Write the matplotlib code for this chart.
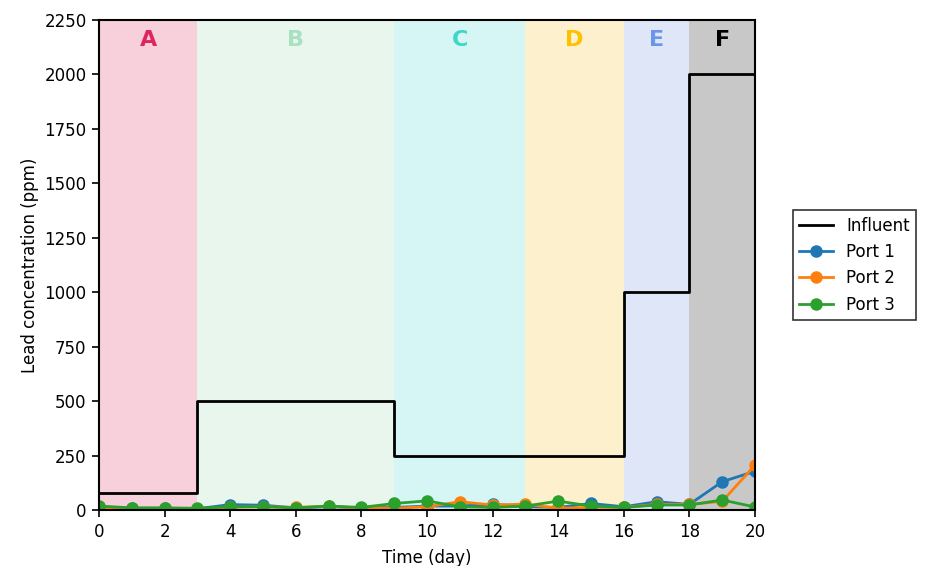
import matplotlib.pyplot as plt
import numpy as np

# influent step profile (ppm), step starts at each day
influent_days = [0, 3, 9, 16, 18, 20]
influent_ppm = [80, 500, 250, 1000, 2000, 2000]

days = list(range(21))
port1 = [15, 8, 8, 6, 25, 22, 10, 15, 10, 12, 18, 18, 27, 15, 12, 30, 15, 38, 26, 130, 178]
port2 = [10, 6, 6, 5, 12, 15, 12, 18, 8, 8, 15, 38, 23, 27, 8, 12, 12, 26, 26, 40, 206]
port3 = [18, 10, 10, 8, 15, 15, 10, 18, 12, 30, 42, 15, 12, 18, 41, 18, 12, 23, 23, 46, 14]

# phase bands
phase_labels = ['A', 'B', 'C', 'D', 'E', 'F']
phase_edges = [0, 3, 9, 13, 16, 18, 20]
phase_fill = ['#f7d0dc', '#e8f6ee', '#d5f6f4', '#fdf0cc', '#dfe6f7', '#c8c8c8']
phase_text = ['#e0245e', '#a8e0c0', '#3dd6c8', '#ffc000', '#6b95e8', '#000000']

plt.rcParams['font.family'] = 'DejaVu Sans'
plt.rcParams['font.size'] = 12

fig = plt.figure(figsize=(9.29, 5.66), dpi=100)
ax = fig.add_subplot(111)
fig.subplots_adjust(left=0.1066, right=0.8127, top=0.9647, bottom=0.0989)

for i, lab in enumerate(phase_labels):
    x0, x1 = phase_edges[i], phase_edges[i + 1]
    ax.axvspan(x0, x1, color=phase_fill[i], zorder=0, lw=0)
    ax.text((x0 + x1) / 2, 2160, lab, color=phase_text[i], fontsize=16,
            fontweight='bold', ha='center', va='center')

ax.step(influent_days, influent_ppm, where='post', color='black', lw=2, label='Influent')
ax.plot(days, port1, '-o', color='#1f77b4', lw=2, ms=8, label='Port 1')
ax.plot(days, port2, '-o', color='#ff7f0e', lw=2, ms=8, label='Port 2')
ax.plot(days, port3, '-o', color='#2ca02c', lw=2, ms=8, label='Port 3')

ax.set_xlim(0, 20)
ax.set_ylim(0, 2250)
ax.set_xticks(np.arange(0, 21, 2))
ax.set_yticks(np.arange(0, 2251, 250))
ax.tick_params(length=5, width=1.2, pad=4)
ax.set_xlabel('Time (day)', labelpad=6)
ax.set_ylabel('Lead concentration (ppm)')
for s in ax.spines.values():
    s.set_linewidth(1.5)

leg = ax.legend(loc='center left', bbox_to_anchor=(1.05, 0.5), fancybox=False,
                edgecolor='black', fontsize=12, borderaxespad=0.3)
leg.get_frame().set_linewidth(1.2)

fig.savefig('out.png', dpi=100)
